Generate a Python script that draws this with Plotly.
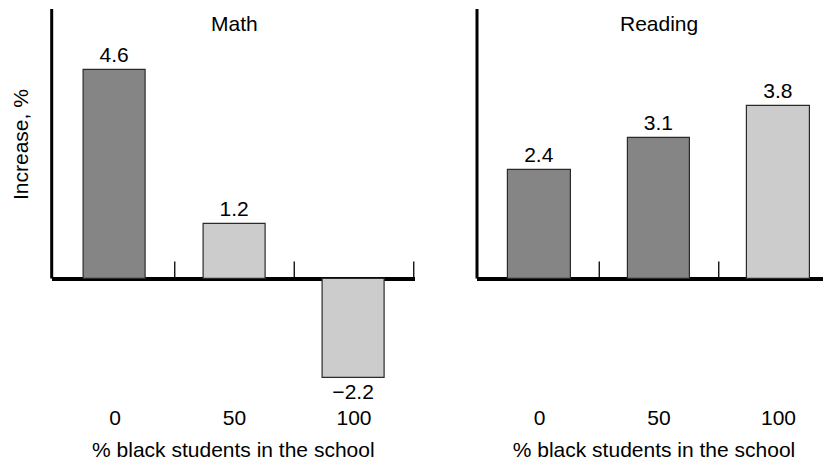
import plotly.graph_objects as go

# ---- data ----
categories = ["0", "50", "100"]
math_values = [4.6, 1.2, -2.2]
reading_values = [2.4, 3.1, 3.8]
math_colors = ["#858585", "#cccccc", "#cccccc"]
reading_colors = ["#858585", "#858585", "#cccccc"]
panel_titles = ["Math", "Reading"]
x_title = "% black students in the school"
y_title = "Increase, %"

# page body has an 8px margin: work in window pixels and subtract it
OFF = 8
WIN_W, WIN_H = 831, 464
W, H = WIN_W - OFF, WIN_H - OFF
FONT = "Liberation Sans, Arial, Helvetica, sans-serif"
FS = 21

def px(v):
    return v - OFF

# pixel geometry (window coordinates)
zero_px = px(278.5)
px_per_unit = 45.4
plot_bottom_px = px(403)
axis_top_px = px(9)

y_top = zero_px / px_per_unit
y_bot = -(plot_bottom_px - zero_px) / px_per_unit
y_dom = [(H - plot_bottom_px) / H, 1.0]

def lab(v):
    return f"{v:.1f}".replace("-", "\u2212")

xpos = list(range(len(categories)))

fig = go.Figure()
for vals, cols, xa, ya in [(math_values, math_colors, "x", "y"),
                           (reading_values, reading_colors, "x2", "y2")]:
    fig.add_trace(go.Bar(
        x=xpos, y=vals, xaxis=xa, yaxis=ya,
        width=0.52,
        marker=dict(color=cols, line=dict(color="#2a2a2a", width=1.2)),
        text=[lab(v) for v in vals], textposition="outside",
        textfont=dict(family=FONT, size=FS, color="black"),
        cliponaxis=False, showlegend=False, hoverinfo="skip",
    ))

common_x = dict(
    tickmode="array", tickvals=xpos, ticktext=categories,
    showgrid=False, zeroline=False, showline=False, ticks="",
    tickfont=dict(family=FONT, size=FS, color="black"),
    title=dict(text=x_title, font=dict(family=FONT, size=FS, color="black"), standoff=14),
    automargin=False, fixedrange=True,
)
common_y = dict(
    range=[y_bot, y_top], domain=y_dom,
    showgrid=False, showticklabels=False, ticks="", showline=False,
    zeroline=True, zerolinecolor="black", zerolinewidth=4,
    automargin=False, fixedrange=True,
)

left_l, left_r = px(51.7), px(415.0)
right_l, right_r = px(477.0), px(831.0)
c0_left, c0_right = px(115.0), px(539.5)
ppu_x = 119.5

fig.update_layout(
    width=W, height=H, autosize=False,
    margin=dict(l=0, r=0, t=0, b=0),
    paper_bgcolor="white", plot_bgcolor="white",
    template="none",
    bargap=0,
    xaxis=dict(domain=[left_l / W, left_r / W],
               range=[(left_l - c0_left) / ppu_x, (left_r - c0_left) / ppu_x], **common_x),
    xaxis2=dict(domain=[right_l / W, min(right_r / W, 1.0)], anchor="y2",
                range=[(right_l - c0_right) / ppu_x, (right_r - c0_right) / ppu_x], **common_x),
    yaxis=dict(anchor="x", **common_y),
    yaxis2=dict(anchor="x2", **common_y),
)

shapes = []
tick_h = 17 / px_per_unit
axis_top_val = (zero_px - axis_top_px) / px_per_unit
for xr, yr, nt in [("x", "y", 3), ("x2", "y2", 2)]:
    # vertical axis line
    shapes.append(dict(type="line", xref=f"{xr} domain", yref=yr, x0=0, x1=0,
                       y0=0, y1=axis_top_val, line=dict(color="black", width=3)))
    # category separator ticks
    for i in range(nt):
        shapes.append(dict(type="line", xref=xr, yref=yr, x0=i + 0.5, x1=i + 0.5,
                           y0=0, y1=tick_h, line=dict(color="black", width=1.3)))
fig.update_layout(shapes=shapes)

annotations = []
for title, xr in zip(panel_titles, ["x", "x2"]):
    annotations.append(dict(text=title, xref=xr, yref="paper", x=1,
                            y=1 - px(23) / H, showarrow=False, xanchor="center", yanchor="middle",
                            font=dict(family=FONT, size=FS, color="black")))
annotations.append(dict(text=y_title, xref="paper", yref="paper", x=px(20) / W, y=1 - px(145) / H,
                        textangle=-90, showarrow=False, xanchor="center", yanchor="middle",
                        font=dict(family=FONT, size=FS, color="black")))
fig.update_layout(annotations=annotations)

fig.write_html("out.html")
